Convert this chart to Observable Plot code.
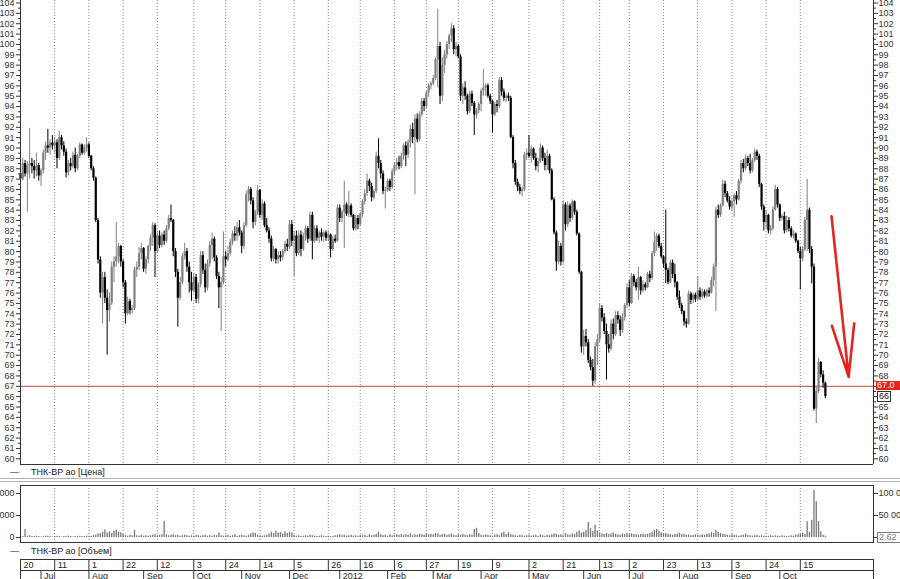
<!DOCTYPE html>
<html><head><meta charset="utf-8">
<script src="https://cdn.jsdelivr.net/npm/d3@7"></script>
<script src="https://cdn.jsdelivr.net/npm/@observablehq/plot@0.6"></script>
<style>
html,body{margin:0;padding:0;background:#fff;}
#wrap{position:relative;width:900px;height:579px;overflow:hidden;font-family:"Liberation Sans",Arial,sans-serif;background:#fff;}
.lg{position:absolute;font-size:9px;color:#222;white-space:nowrap;line-height:10px;}
.box{position:absolute;font-size:9px;line-height:9px;height:9px;padding:0 1px;white-space:nowrap;}
</style></head><body><div id="wrap"></div>
<script>
// ---- data: daily bars [open, high, low, close], trading-day index 0 = 20 Jun 2011 ----
const bars = [
// 0
[87.5,88.5,86.5,87.0],[87.0,89.0,86.8,88.5],[88.5,88.8,87.2,87.5],[87.5,88.7,83.8,88.3],[88.3,91.9,87.0,88.5],
[88.5,89.0,87.5,88.2],[88.2,88.8,87.0,87.8],[87.8,89.5,87.2,88.3],[88.3,88.5,86.8,87.3],[87.3,88.0,86.3,87.8],
[87.8,89.8,87.5,89.5],[89.5,90.6,88.8,90.2],[90.2,91.8,89.5,90.0],[90.0,90.8,89.3,90.5],[90.5,91.2,89.8,90.2],
// 15
[90.2,91.0,89.5,90.5],[90.5,90.8,88.0,89.0],[89.0,91.6,88.8,91.0],[91.0,91.2,89.8,90.2],[90.2,90.6,89.2,89.6],
[89.6,89.9,87.1,87.6],[87.6,88.8,87.3,88.5],[88.5,89.0,87.8,88.2],[88.2,89.6,88.0,89.3],[89.3,90.0,87.6,88.0],
[88.0,89.4,87.8,89.2],[89.2,90.5,89.0,90.3],[90.3,90.4,89.3,89.5],[89.5,90.3,89.3,90.0],[90.0,91.0,89.6,90.3],
// 30
[90.3,90.5,89.0,89.2],[89.2,89.3,87.8,88.0],[88.0,88.2,86.8,87.1],[87.1,87.2,82.8,83.0],[83.0,83.2,78.8,79.2],
[79.2,79.5,75.5,76.0],[76.0,78.0,73.0,77.5],[77.5,78.0,75.0,75.5],[75.5,76.3,70.0,74.3],[74.3,76.0,73.2,75.0],
[75.0,79.0,74.8,78.5],[78.5,79.5,77.0,79.0],[79.0,82.8,78.5,79.5],[79.5,80.8,78.8,80.5],[80.5,80.6,78.5,79.0],
[79.0,79.2,76.5,77.0],
// 46
[77.0,77.2,73.0,74.0],[74.0,75.6,73.8,75.2],[75.2,75.4,73.9,74.3],[74.3,74.8,74.0,74.5],[74.5,78.5,74.3,78.2],
[78.2,79.0,77.5,78.5],[78.5,80.4,78.2,79.8],[79.8,80.8,79.2,80.3],[80.3,80.4,78.0,78.3],[78.3,79.5,77.8,79.2],
[79.2,80.6,78.8,80.5],[80.5,81.6,80.0,81.3],[81.3,82.8,80.5,82.5],[82.5,82.7,77.5,80.0],[80.0,81.8,79.8,81.5],
// 61
[81.5,82.0,80.3,80.6],[80.6,81.8,80.4,81.6],[81.6,82.0,80.6,81.0],[81.0,82.5,80.8,82.2],[82.2,83.5,82.0,83.2],
[83.2,84.5,82.8,83.0],[83.0,83.1,79.5,80.0],[80.0,80.3,77.5,78.0],[78.0,78.3,72.7,75.5],[75.5,77.5,75.3,77.0],
[77.0,79.8,76.8,79.5],[79.5,80.8,79.2,80.0],[80.0,80.3,78.0,78.5],[78.5,79.0,76.0,77.0],[77.0,78.0,75.2,76.2],
// 76
[76.2,77.9,76.0,77.5],[77.5,77.8,75.0,75.4],[75.4,77.0,75.0,76.8],[76.8,80.0,76.5,79.6],[79.6,80.0,77.8,78.2],
[78.2,78.8,76.0,76.5],[76.5,79.2,76.2,78.8],[78.8,81.0,78.5,80.6],[80.6,81.8,79.2,81.2],[81.2,81.4,79.0,79.4],
[79.4,79.6,77.3,77.6],[77.6,78.0,74.5,76.5],[76.5,77.5,72.3,77.0],[77.0,81.9,76.8,79.5],[79.5,80.0,78.5,79.2],
// 91
[79.2,80.5,79.0,79.8],[79.8,81.2,79.6,80.9],[80.9,82.0,80.6,81.7],[81.7,82.4,81.0,81.5],[81.5,82.8,81.0,82.3],
[82.3,83.0,81.5,81.8],[81.8,82.0,79.8,80.5],[80.5,82.8,80.2,82.5],[82.5,85.8,82.3,85.5],[85.5,86.3,84.8,86.0],
[86.0,86.2,84.5,84.9],[84.9,85.2,82.2,82.8],[82.8,84.0,82.5,83.8],[83.8,86.4,83.5,85.9],[85.9,86.0,83.2,83.5],
// 106
[83.5,85.0,83.0,84.6],[84.6,84.8,82.3,82.5],[82.5,83.2,81.8,82.0],[82.0,82.3,80.8,81.2],[81.2,81.5,79.0,79.3],
[79.3,80.5,79.0,80.2],[80.2,80.3,78.8,79.2],[79.2,80.0,78.8,79.6],[79.6,80.0,79.0,79.4],[79.4,80.2,79.1,80.0],
[80.0,81.0,79.8,80.7],[80.7,81.2,80.0,80.4],[80.4,83.0,80.2,82.6],[82.6,83.0,80.5,81.0],[81.0,82.0,77.6,81.5],
// 121
[81.5,82.0,79.5,79.8],[79.8,82.0,79.6,81.6],[81.6,82.0,79.5,80.2],[80.2,81.8,80.0,81.5],[81.5,82.5,81.0,82.2],
[82.2,82.4,80.8,81.2],[81.2,83.8,81.0,83.5],[83.5,83.8,79.2,81.0],[81.0,82.5,80.8,82.2],[82.2,82.5,81.0,81.3],
[81.3,82.0,80.8,81.8],[81.8,82.2,81.0,81.4],[81.4,82.0,80.9,81.8],[81.8,82.0,81.0,81.3],[81.3,82.0,81.0,81.6],
// 136
[81.6,81.7,79.4,80.2],[80.2,81.5,80.0,81.2],[81.2,81.6,80.8,81.0],[81.0,84.5,80.9,84.2],[84.2,84.5,82.8,83.2],
[83.2,84.0,82.8,83.8],[83.8,86.8,80.3,84.5],[84.5,84.7,83.4,83.6],[83.6,85.8,83.3,84.4],[84.4,84.6,83.3,83.5],
[83.5,83.6,82.0,82.2],[82.2,83.5,82.0,83.2],[83.2,83.5,82.1,82.6],[82.6,83.8,82.4,83.6],
// 150
[83.6,85.0,83.3,84.8],[84.8,86.0,84.5,85.6],[85.6,87.5,85.3,86.8],[86.8,87.0,85.8,86.3],[86.3,86.6,84.8,85.2],
[85.2,86.0,85.0,85.8],[85.8,89.6,85.6,89.2],[89.2,90.9,88.0,88.5],[88.5,88.8,87.0,87.5],[87.5,87.8,85.5,85.8],
[85.8,86.2,84.1,85.9],[85.9,87.0,85.7,86.8],[86.8,87.0,85.8,86.2],[86.2,88.0,86.0,87.7],[87.7,88.6,87.3,88.3],
// 165
[88.3,89.0,87.8,88.6],[88.6,89.2,87.9,88.2],[88.2,89.5,88.0,89.2],[89.2,90.4,88.8,90.2],[90.2,90.6,88.2,89.3],
[89.3,90.8,89.0,90.5],[90.5,92.2,90.0,91.8],[91.8,92.4,90.4,91.0],[91.0,93.2,85.5,92.8],[92.8,93.3,90.5,90.8],
[90.8,93.5,90.6,93.2],[93.2,94.8,93.0,94.5],[94.5,94.8,93.5,94.0],[94.0,95.5,93.8,95.3],[95.3,96.2,94.9,96.0],
// 180
[96.0,96.4,95.6,96.2],
[96.2,97.0,96.0,96.7],[96.7,98.7,96.5,98.5],[98.5,103.4,95.8,99.8],[99.8,100.2,94.2,95.0],[95.0,98.7,94.5,98.0],
[98.0,99.4,97.2,99.0],[99.0,100.3,98.6,100.0],[100.0,101.0,99.5,100.8],[100.8,102.0,100.2,101.5],[101.5,101.8,99.0,99.5],
[99.5,100.2,98.8,99.8],[99.8,100.0,98.6,98.8],[98.8,99.0,94.5,95.0],[95.0,96.2,94.2,95.8],
// 195
[95.8,96.4,94.6,95.0],[95.0,95.2,93.2,93.5],[93.5,95.5,93.3,95.2],[95.2,95.5,94.0,94.3],[94.3,94.5,91.2,93.2],
[93.2,93.8,92.8,93.6],[93.6,94.4,93.3,94.2],[94.2,95.7,93.5,95.5],[95.5,97.6,95.0,95.8],[95.8,96.2,95.0,96.0],
[96.0,96.2,94.8,95.0],[95.0,95.2,94.2,94.5],[94.5,94.6,91.4,93.2],[93.2,94.4,93.0,94.2],[94.2,94.6,93.4,94.0],
// 210
[94.0,96.8,93.8,96.5],[96.5,96.8,95.0,95.4],[95.4,95.7,94.5,94.8],[94.8,95.2,94.4,95.0],[95.0,95.3,94.5,94.8],
[94.8,95.0,90.9,91.0],[91.0,91.2,88.0,88.5],[88.5,88.8,86.4,86.7],[86.7,87.0,85.8,86.2],[86.2,86.5,85.5,85.8],
[85.8,86.2,85.3,86.0],[86.0,89.6,85.8,89.3],[89.3,89.9,88.8,89.5],[89.5,91.2,89.0,89.2],[89.2,90.2,88.5,89.9],
[89.9,90.0,88.8,89.0],
// 226
[89.0,89.5,87.8,88.2],[88.2,89.0,87.6,88.7],[88.7,90.4,88.5,90.0],[90.0,90.2,88.7,89.0],[89.0,89.5,87.8,88.3],
[88.3,89.8,87.8,89.2],[89.2,89.4,87.5,87.8],[87.8,88.0,84.9,85.0],[85.0,85.2,81.6,81.8],[81.8,82.0,78.1,79.0],
[79.0,81.0,78.7,80.5],[80.5,80.8,78.6,79.0],[79.0,84.9,78.8,84.5],[84.5,84.7,82.0,82.6],
// 240
[82.6,84.8,82.3,84.4],[84.4,84.6,82.8,83.2],[83.2,85.0,83.0,84.8],[84.8,84.9,83.5,83.8],[83.8,84.0,81.5,81.7],
[81.7,81.8,77.8,78.0],[78.0,78.1,70.2,70.8],[70.8,72.4,70.0,71.8],[71.8,72.5,70.8,71.2],[71.2,71.5,69.2,69.5],
[69.5,69.8,68.5,68.8],[68.8,69.6,67.0,67.5],[67.5,71.2,67.2,70.8],[70.8,72.0,69.0,71.5],[71.5,75.0,71.2,74.5],
[74.5,74.8,73.2,73.6],
// 256
[73.6,74.0,72.0,72.3],[72.3,73.0,67.6,71.0],[71.0,72.0,70.2,70.6],[70.6,73.4,70.4,73.0],[73.0,73.5,71.5,72.0],
[72.0,74.2,71.8,73.8],[73.8,74.2,73.0,73.4],
// 263
[73.4,73.8,71.8,72.4],[72.4,74.0,72.1,73.6],[73.6,75.0,73.3,74.8],[74.8,76.9,74.5,76.5],[76.5,77.2,74.7,75.0],
[75.0,77.9,74.9,77.6],
// 269
[77.6,77.8,76.6,77.0],[77.0,77.3,76.2,76.5],[76.5,78.5,75.3,77.5],[77.5,77.6,75.8,76.2],[76.2,77.2,76.0,76.8],
[76.8,77.0,76.2,76.5],[76.5,78.0,76.4,77.8],[77.8,78.1,77.0,77.4],[77.4,80.0,77.2,79.8],[79.8,81.9,79.5,80.9],
[80.9,81.7,80.0,81.5],[81.5,81.7,80.3,80.5],[80.5,80.8,79.3,79.5],[79.5,79.6,78.4,78.8],[78.8,84.0,76.9,78.2],
[78.2,78.4,76.8,77.0],[77.0,79.2,76.9,78.9],[78.9,79.2,77.4,77.8],[77.8,78.8,76.5,77.0],[77.0,77.1,75.3,75.6],
[75.6,76.2,74.5,74.8],[74.8,75.0,73.9,74.2],[74.2,74.3,72.8,73.2],[73.2,73.5,72.6,73.0],[73.0,76.2,72.9,75.9],
[75.9,76.1,74.9,75.3],[75.3,76.0,75.0,75.8],[75.8,76.0,75.1,75.4],[75.4,77.6,75.2,76.2],[76.2,76.5,75.3,75.6],
[75.6,76.4,75.4,76.1],
// 300
[76.1,76.3,75.5,75.7],[75.7,76.4,75.5,76.2],[76.2,76.5,75.6,76.0],[76.0,77.5,75.9,77.2],[77.2,78.8,76.6,78.5],
[78.5,84.3,74.2,84.0],
// 306
[84.0,84.5,83.2,83.5],[83.5,84.6,83.3,84.4],[84.4,86.9,84.3,86.5],[86.5,86.8,85.2,85.6],[85.6,85.8,84.7,84.9],
[84.9,85.3,84.0,84.3],[84.3,85.0,83.9,84.8],[84.8,85.6,83.3,85.4],[85.4,85.8,84.5,85.0],[85.0,87.0,84.9,86.8],
[86.8,88.8,86.5,88.5],[88.5,88.9,87.6,88.0],[88.0,89.3,87.8,89.0],[89.0,89.2,88.2,88.5],[88.5,89.4,87.5,87.8],
[87.8,89.0,87.6,88.8],[88.8,89.9,88.6,89.6],[89.6,89.8,88.8,89.2],[89.2,89.4,86.2,86.5],[86.5,86.6,84.0,84.3],
[84.3,84.5,82.0,82.8],[82.8,84.0,82.2,83.5],[83.5,83.6,81.7,82.0],[82.0,82.5,81.6,82.2],[82.2,84.3,82.0,84.0],
[84.0,86.4,83.9,86.0],[86.0,86.2,84.2,84.5],[84.5,84.6,82.9,83.2],[83.2,83.6,83.0,83.4],[83.4,83.8,81.7,82.0],
[82.0,83.4,81.8,83.0],[83.0,83.3,81.9,82.2],[82.2,82.4,81.3,81.5],[81.5,82.0,81.2,81.7],[81.7,81.8,80.8,81.0],
[81.0,81.1,79.8,80.0],[80.0,80.4,76.3,79.3],[79.3,80.5,79.0,80.2],[80.2,83.3,80.0,83.0],[83.0,87.0,80.0,84.0],
[84.0,84.2,79.8,80.2],[80.2,80.5,76.9,78.5],[78.5,78.8,64.6,64.8],[64.8,67.0,63.4,66.5],[66.5,69.7,66.3,69.3],
[69.3,69.4,67.8,68.1],[68.1,68.5,66.8,67.3],[67.3,67.4,65.8,66.0]
];
// daily volume, thousands
const volume = [
3,2,18,3,4,2,2,3,2,1,2,3,2,2,1,
2,3,2,1,2,2,3,2,1,2,2,3,2,2,3,
3,2,4,5,8,9,12,17,10,13,9,14,16,12,11,
7,4,3,5,4,16,4,3,5,3,4,3,4,5,6,
4,5,6,37,6,4,5,6,4,5,3,4,5,4,3,
4,3,5,4,3,4,5,3,4,3,5,4,10,4,3,
4,5,3,4,6,3,4,5,4,3,5,8,10,9,5,
4,3,4,5,8,12,9,14,10,11,8,13,9,12,10,
5,3,4,2,3,4,3,5,4,3,2,3,4,3,2,
3,2,3,4,5,6,4,5,3,4,5,3,4,3,5,
4,5,3,6,4,5,7,12,6,4,5,3,6,4,5,
6,5,7,4,6,5,8,4,6,5,7,6,5,8,6,
7,6,9,8,5,6,7,5,6,8,5,4,6,5,7,
5,4,6,5,18,21,9,5,4,6,5,4,3,5,6,
4,10,12,7,11,6,5,4,3,5,4,3,4,5,3,
4,5,3,6,4,3,5,4,6,8,7,5,6,4,9,
6,5,8,7,12,15,10,12,16,34,20,13,28,15,10,
8,7,9,6,8,10,7,6,5,8,7,9,6,8,7,
6,5,7,8,6,7,9,12,16,18,14,10,8,9,7,
6,5,7,8,9,6,7,5,6,4,5,6,5,4,6,
5,7,8,11,9,16,12,9,7,6,5,4,6,5,4,
3,4,5,8,5,4,3,4,5,3,4,3,2,3,4,
3,4,3,2,4,3,2,3,4,3,5,6,8,10,7,
36,12,39,107,81,36,13,5,3
];
const dayTickIdx    = [0,15,30,45,60,76,90,105,120,135,149,164,178,192,207,223,238,254,267,282,297,312,327,342];
const dayTickLabels = ["20","11","1","22","12","3","24","14","5","26","16","6","27","19","9","2","21","13","2","23","13","3","24","15"];
const monthTickIdx  = [9,30,54,76,97,118,140,161,181,202,223,247,267,289,312,333];
const monthLabels   = ["Jul","Aug","Sep","Oct","Nov","Dec","2012","Feb","Mar","Apr","May","Jun","Jul","Aug","Sep","Oct"];
const priceTicks = d3.range(60, 105);
const priceMinor = d3.range(60.5, 104, 1);
const volTicks = [0, 50, 100];
const levelLine = 67.0;
const lastPrice = 66;
const lastVolumeLabel = "2.62";
const arrowAnno = [{x1: 355.7, y1: 83.4, x2: 363.2, y2: 67.9}];
const seriesName = "ТНК-BP ao";

// ---- build ----
const candles = bars.map(([o, h, l, c], i) => ({i, o, h, l, c, col: c >= o ? "#808080" : "#000000"}));
const vols = volume.map((v, i) => ({i, v}));
const dayTicks = dayTickIdx.map((x, k) => ({x, t: dayTickLabels[k]}));
const months = monthTickIdx.map((x, k) => ({x, t: monthLabels[k]}));
const XD = [0, 374.1];
const FONT = "'Liberation Sans', Arial, sans-serif";
const baseStyle = {fontFamily: FONT, fontSize: "9px", color: "#333", background: "transparent", overflow: "visible"};
const wrap = document.getElementById("wrap");
function put(el, top, left) { el.style.position = "absolute"; el.style.top = top + "px"; el.style.left = (left || 0) + "px"; wrap.appendChild(el); return el; }
const grid = {stroke: "#8a8a8a", strokeDasharray: "1,2", strokeWidth: 1};
// right-axis labels hidden where the level / last-price boxes sit
const rightFmt = d => (d === levelLine || d === lastPrice) ? "" : d;

const price = Plot.plot({
  width: 900, height: 465, marginLeft: 20, marginRight: 27, marginTop: 0, marginBottom: 1,
  style: baseStyle,
  x: {domain: XD, axis: null},
  y: {domain: [59.45, 104.24], axis: null},
  marks: [
    Plot.ruleX(dayTickIdx.slice(1), grid),
    Plot.ruleY([levelLine], {stroke: "#b94848", strokeWidth: 1}),
    Plot.ruleX(candles, {x: "i", y1: "l", y2: "h", stroke: "col", strokeWidth: 1}),
    Plot.ruleX(candles, {x: "i", y1: "o", y2: "c", stroke: "col", strokeWidth: 2.2}),
    Plot.axisY({anchor: "left", ticks: priceTicks, tickSize: 4, tickPadding: 2, tickFormat: d => d, label: null, fontSize: 9}),
    Plot.axisY({anchor: "left", ticks: priceMinor, tickSize: 2, tickFormat: () => "", label: null}),
    Plot.axisY({anchor: "right", ticks: priceTicks, tickSize: 4, tickPadding: 1, tickFormat: rightFmt, label: null, fontSize: 9}),
    Plot.axisY({anchor: "right", ticks: priceMinor, tickSize: 2, tickFormat: () => "", label: null}),
    Plot.ruleX([XD[0], XD[1]], {stroke: "#333"}),
    Plot.ruleY([59.45], {stroke: "#333"}),
    Plot.arrow(arrowAnno, {x1: "x1", y1: "y1", x2: "x2", y2: "y2", stroke: "#e3241f", strokeWidth: 2.6, headAngle: 24, headLength: 34})
  ]
});
put(price, 0, 0);

// labels on the right price axis
const ys = price.scale("y");
const lbl1 = document.createElement("div"); lbl1.className = "box";
lbl1.textContent = levelLine.toFixed(1); lbl1.style.background = "#e3241f"; lbl1.style.color = "#fff"; lbl1.style.width = "24px";
put(lbl1, ys.apply(levelLine) - 5, 876);
const lbl2 = document.createElement("div"); lbl2.className = "box";
lbl2.textContent = String(lastPrice); lbl2.style.border = "1px solid #333"; lbl2.style.background = "#fff"; lbl2.style.color = "#222";
put(lbl2, ys.apply(lastPrice) - 5, 877);

// legends and separator
const leg1 = document.createElement("div"); leg1.className = "lg";
leg1.innerHTML = "<span style='position:absolute;left:0'>—</span><span style='position:absolute;left:21px'>" + seriesName + " [Цена]</span>";
put(leg1, 467, 10);
const sep = document.createElement("div");
sep.style.width = "900px"; sep.style.height = "2px"; sep.style.borderTop = "1px solid #b0b0b0"; sep.style.borderBottom = "1px solid #b0b0b0";
put(sep, 478, 0);

// volume panel
const vol = Plot.plot({
  width: 900, height: 60, marginLeft: 20, marginRight: 27, marginTop: 1, marginBottom: 2,
  style: baseStyle,
  x: {domain: XD, axis: null},
  y: {domain: [-11.4, 118.2], axis: null},
  marks: [
    Plot.ruleX(dayTickIdx.slice(1), grid),
    Plot.ruleX(vols, {x: "i", y1: 0, y2: "v", stroke: "#777", strokeWidth: 1.3}),
    Plot.axisY({anchor: "left", ticks: volTicks, tickSize: 4, tickPadding: 2, label: null, fontSize: 9,
      tickFormat: d => d === 0 ? "0" : (d * 1000).toLocaleString("ru-RU").replace(/\s/g, " ")}),
    Plot.axisY({anchor: "right", ticks: volTicks, tickSize: 4, tickPadding: 1, label: null, fontSize: 9,
      tickFormat: d => d === 0 ? "" : (d * 1000).toLocaleString("ru-RU").replace(/\s/g, " ")}),
    Plot.frame({stroke: "#333"})
  ]
});
put(vol, 484, 0);
const vs = vol.scale("y");
const lbl3 = document.createElement("div"); lbl3.className = "box";
lbl3.textContent = lastVolumeLabel; lbl3.style.border = "1px solid #777"; lbl3.style.color = "#777"; lbl3.style.background = "#fff"; lbl3.style.width = "26px";
put(lbl3, 484 + vs.apply(0) - 5, 877);

const leg2 = document.createElement("div"); leg2.className = "lg";
leg2.innerHTML = "<span style='position:absolute;left:0'>—</span><span style='position:absolute;left:21px'>" + seriesName + " [Объем]</span>";
put(leg2, 546, 10);

// date axis (two rows)
const dates = Plot.plot({
  width: 900, height: 24, marginLeft: 20, marginRight: 27, marginTop: 0, marginBottom: 0,
  style: baseStyle,
  x: {domain: XD, axis: null},
  y: {domain: [0, 2], range: [26, 4], axis: null},
  marks: [
    Plot.ruleY([2, 1], {x1: XD[0], x2: XD[1], stroke: "#333"}),
    Plot.ruleX(dayTicks, {x: "x", y1: 1, y2: 2, stroke: "#333"}),
    Plot.ruleX([XD[0], ...monthTickIdx], {y1: 0, y2: 1, stroke: "#333"}),
    Plot.ruleX([XD[1]], {y1: 0, y2: 2, stroke: "#333"}),
    Plot.text(dayTicks, {x: "x", y: 1.5, text: "t", textAnchor: "start", dx: 3, fontSize: 9, fill: "#222"}),
    Plot.text(months, {x: "x", y: 0.5, text: "t", textAnchor: "start", dx: 3, fontSize: 9, fill: "#222"})
  ]
});
put(dates, 555, 0);
</script></body></html>
